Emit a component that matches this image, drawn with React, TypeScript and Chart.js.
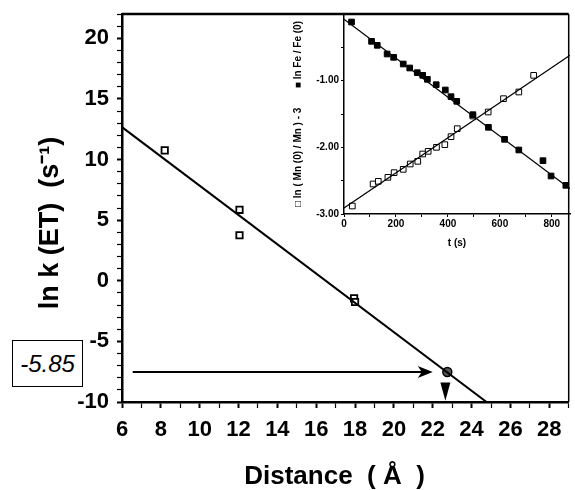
import React, { useEffect, useRef } from 'react';
import { Chart, registerables } from 'chart.js';
Chart.register(...registerables);

// ---- Main plot data ----
const distance = [8.2, 12.05, 12.05, 17.95, 18.0];
const lnK = [10.75, 5.85, 3.75, -1.45, -1.75];
const fitX = [6, 24.77];
const fitY = [12.67, -10];
const predictedX = [22.75];
const predictedY = [-7.53];
const hArrowX = [6.55, 22.0];
const hArrowY = [-7.53, -7.53];
const vArrowX = [22.65, 22.65];
const vArrowY = [-8.4, -9.9];
const boxValue = '-5.85';

// ---- Inset data ----
const feT = [29, 106, 128, 166, 191, 228, 253, 282, 303, 321, 355, 390, 412, 434, 496, 556, 618, 673, 766, 797, 854];
const feV = [-0.12, -0.41, -0.47, -0.6, -0.65, -0.75, -0.81, -0.88, -0.92, -0.98, -1.06, -1.14, -1.24, -1.31, -1.51, -1.7, -1.88, -2.04, -2.2, -2.43, -2.57];
const mnT = [32, 112, 132, 169, 193, 228, 255, 284, 303, 324, 356, 388, 412, 436, 496, 555, 614, 673, 730];
const mnV = [-2.88, -2.55, -2.51, -2.45, -2.38, -2.33, -2.25, -2.21, -2.1, -2.06, -2.0, -1.96, -1.84, -1.72, -1.53, -1.47, -1.27, -1.17, -0.92];
const feFitT = [0, 870];
const feFitV = [-0.08, -2.62];
const mnFitT = [0, 870];
const mnFitV = [-2.91, -0.62];
const insetTTicks = [0, 100, 200, 300, 400, 500, 600, 700, 800];

const FONT = '"Liberation Sans", Arial, Helvetica, sans-serif';
const NB = '\u00A0';
const pts = (xs: number[], ys: number[]) => xs.map((x, i) => ({ x, y: ys[i] }));

const zeroPad = (s: any) => {
  s.paddingTop = 0;
  s.paddingBottom = 0;
  s.paddingLeft = 0;
  s.paddingRight = 0;
};

const framePlugin = {
  id: 'frame',
  afterDraw(chart: any) {
    const { ctx, chartArea: a } = chart;
    ctx.save();
    ctx.strokeStyle = '#000';
    ctx.lineWidth = 2.5;
    ctx.beginPath();
    ctx.moveTo(a.left, a.top);
    ctx.lineTo(a.right, a.top);
    ctx.stroke();
    ctx.lineWidth = 1.5;
    ctx.beginPath();
    ctx.moveTo(a.right, a.top);
    ctx.lineTo(a.right, a.bottom);
    ctx.stroke();
    ctx.restore();
  },
};

const arrowPlugin = {
  id: 'arrows',
  afterDatasetsDraw(chart: any) {
    const { ctx } = chart;
    const xs = chart.scales.x;
    const ys = chart.scales.y;
    ctx.save();
    ctx.strokeStyle = '#000';
    ctx.fillStyle = '#000';
    const x0 = xs.getPixelForValue(hArrowX[0]);
    const x1 = xs.getPixelForValue(hArrowX[1]);
    const y0 = ys.getPixelForValue(hArrowY[0]);
    ctx.lineWidth = 2;
    ctx.beginPath();
    ctx.moveTo(x0, y0);
    ctx.lineTo(x1 - 4, y0);
    ctx.stroke();
    ctx.beginPath();
    ctx.moveTo(x1, y0);
    ctx.lineTo(x1 - 15, y0 - 6);
    ctx.lineTo(x1 - 11, y0);
    ctx.lineTo(x1 - 15, y0 + 6);
    ctx.closePath();
    ctx.fill();
    const vx = xs.getPixelForValue(vArrowX[0]);
    const vy0 = ys.getPixelForValue(vArrowY[0]);
    const vy1 = ys.getPixelForValue(vArrowY[1]);
    ctx.beginPath();
    ctx.moveTo(vx - 5, vy0);
    ctx.lineTo(vx + 5, vy0);
    ctx.lineTo(vx, vy1);
    ctx.closePath();
    ctx.fill();
    ctx.restore();
  },
};

function MainChart() {
  const ref = useRef<HTMLCanvasElement>(null);
  useEffect(() => {
    const chart = new Chart(ref.current!, {
      type: 'scatter',
      data: {
        datasets: [
          {
            type: 'line',
            data: pts(fitX, fitY),
            borderColor: '#000',
            borderWidth: 2,
            pointRadius: 0,
            fill: false,
          } as any,
          {
            data: pts(distance, lnK),
            pointStyle: 'rect',
            pointRadius: 4.5,
            backgroundColor: '#fff',
            borderColor: '#000',
            borderWidth: 1.8,
          },
          {
            data: pts(distance, lnK),
            pointStyle: 'rect',
            pointRadius: 1.3,
            backgroundColor: '#000',
            borderColor: '#000',
            borderWidth: 0.5,
          },
          {
            data: pts(predictedX, predictedY),
            pointStyle: 'circle',
            pointRadius: 4.5,
            backgroundColor: '#555',
            borderColor: '#000',
            borderWidth: 1.5,
          },
        ],
      },
      options: {
        animation: false,
        responsive: false,
        events: [],
        layout: { padding: { top: 14, right: 2, left: 0, bottom: 0 } },
        plugins: { legend: { display: false }, tooltip: { enabled: false } },
        scales: {
          x: {
            type: 'linear',
            min: 6,
            max: 29,
            ticks: {
              stepSize: 1,
              autoSkip: false,
              maxRotation: 0,
              padding: 9,
              color: '#000',
              font: { family: FONT, size: 22, weight: 'bold' },
              callback: (v: any) => (v % 2 === 0 && v <= 28 ? String(v) : ''),
            },
            grid: {
              drawOnChartArea: false,
              tickLength: 6,
              color: '#000',
              tickWidth: (c: any) => (c.tick && c.tick.value % 2 === 0 ? 2 : 1.2),
            },
            border: { color: '#000', width: 2.5 },
            title: {
              display: true,
              text: 'Distance  ( Å  )' + NB + NB + NB,
              color: '#000',
              padding: { top: 0, bottom: 0 },
              font: { family: FONT, size: 26, weight: 'bold', lineHeight: 1 },
            },
            afterFit: (s: any) => {
              s.height = 88;
              zeroPad(s);
            },
          },
          y: {
            type: 'linear',
            min: -10,
            max: 22,
            ticks: {
              stepSize: 1,
              autoSkip: false,
              padding: 8,
              color: '#000',
              font: { family: FONT, size: 22, weight: 'bold' },
              callback: (v: any) => (v % 5 === 0 ? String(v) : ''),
            },
            grid: {
              drawOnChartArea: false,
              tickLength: 5,
              color: '#000',
              tickWidth: (c: any) => (c.tick && c.tick.value % 5 === 0 ? 2 : 1.2),
            },
            border: { color: '#000', width: 2.5 },
            title: {
              display: true,
              text: 'ln k (ET)  (s⁻¹)' + NB + NB + NB + NB,
              color: '#000',
              padding: { top: 34, bottom: 0 },
              font: { family: FONT, size: 27, weight: 'bold', lineHeight: 1.2 },
            },
            afterFit: (s: any) => {
              s.width = 122;
              zeroPad(s);
            },
          },
        },
      },
      plugins: [framePlugin, arrowPlugin],
    } as any);
    return () => chart.destroy();
  }, []);
  return <canvas ref={ref} width={575} height={490} style={{ position: 'absolute', left: 0, top: 0 }} />;
}

function InsetChart() {
  const ref = useRef<HTMLCanvasElement>(null);
  useEffect(() => {
    const chart = new Chart(ref.current!, {
      type: 'scatter',
      data: {
        datasets: [
          {
            type: 'line',
            data: pts(feFitT, feFitV),
            borderColor: '#000',
            borderWidth: 1.2,
            pointRadius: 0,
          } as any,
          {
            type: 'line',
            data: pts(mnFitT, mnFitV),
            borderColor: '#000',
            borderWidth: 1.2,
            pointRadius: 0,
          } as any,
          {
            data: pts(feT, feV),
            pointStyle: 'rect',
            pointRadius: 4,
            backgroundColor: '#000',
            borderColor: '#000',
            borderWidth: 1,
          },
          {
            data: pts(mnT, mnV),
            pointStyle: 'rect',
            pointRadius: 4,
            backgroundColor: '#fff',
            borderColor: '#000',
            borderWidth: 1,
          },
        ],
      },
      options: {
        animation: false,
        responsive: false,
        events: [],
        layout: { padding: { top: 14, right: 2, left: 0, bottom: 0 } },
        plugins: { legend: { display: false }, tooltip: { enabled: false } },
        scales: {
          x: {
            type: 'linear',
            min: 0,
            max: 870,
            afterBuildTicks: (s: any) => {
              s.ticks = insetTTicks.map((value) => ({ value }));
            },
            ticks: {
              autoSkip: false,
              maxRotation: 0,
              padding: 1,
              color: '#000',
              font: { family: FONT, size: 10, weight: 'bold' },
              callback: (v: any) => (v % 200 === 0 ? String(v) : ''),
            },
            grid: { drawOnChartArea: false, tickLength: 3, color: '#000' },
            border: { color: '#000', width: 1.5 },
            title: {
              display: true,
              text: 't (s)',
              color: '#000',
              padding: { top: 0, bottom: 11 },
              font: { family: FONT, size: 10, weight: 'bold' },
            },
            afterFit: (s: any) => {
              s.height = 46;
              zeroPad(s);
            },
          },
          y: {
            type: 'linear',
            min: -3,
            max: 0,
            ticks: {
              stepSize: 0.5,
              autoSkip: false,
              padding: 2,
              color: '#000',
              font: { family: FONT, size: 10, weight: 'bold' },
              callback: (v: any) => (Number.isInteger(v) && v < 0 ? v.toFixed(2) : ''),
            },
            grid: { drawOnChartArea: false, tickLength: 3, color: '#000' },
            border: { color: '#000', width: 1.5 },
            title: {
              display: true,
              text: '□ ln ( Mn (0) / Mn ) - 3       ■ ln Fe / Fe (0)',
              color: '#000',
              padding: { top: 7, bottom: 0 },
              font: { family: FONT, size: 10, weight: 'bold' },
            },
            afterFit: (s: any) => {
              s.width = 59;
              zeroPad(s);
            },
          },
        },
      },
    } as any);
    return () => chart.destroy();
  }, []);
  return <canvas ref={ref} width={290} height={260} style={{ position: 'absolute', left: 285, top: 0 }} />;
}

export default function App() {
  return (
    <div style={{ position: 'absolute', left: 0, top: 0, width: 575, height: 490, background: '#fff', overflow: 'hidden' }}>
      <MainChart />
      <InsetChart />
      <div
        style={{
          position: 'absolute',
          left: 12,
          top: 340,
          width: 69,
          height: 45,
          border: '1.5px solid #000',
          fontFamily: FONT,
          fontStyle: 'italic',
          fontSize: 24,
          lineHeight: '45px',
          textAlign: 'center',
          color: '#000',
          background: '#fff',
        }}
      >
        {boxValue}
      </div>
    </div>
  );
}
